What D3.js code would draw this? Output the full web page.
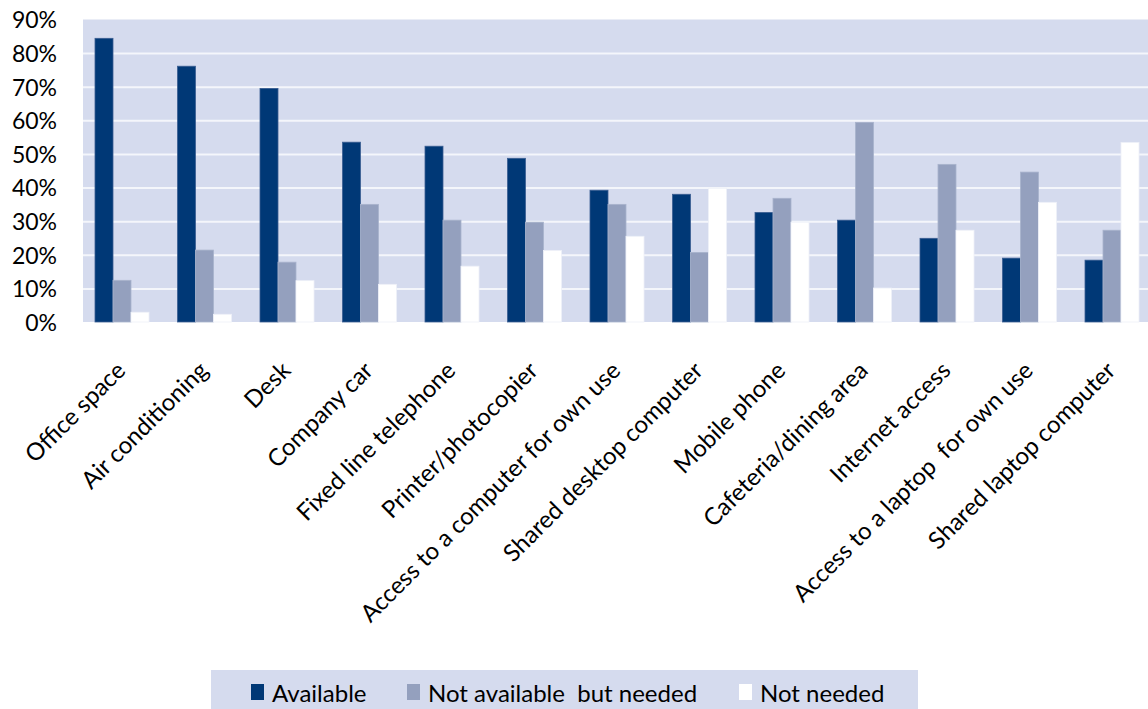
<!DOCTYPE html>
<html>
<head>
<meta charset="utf-8">
<script src="https://cdn.jsdelivr.net/npm/d3@7"></script>
<style>
  html, body { margin: 0; padding: 0; background: #ffffff; }
  svg { display: block; }
  text { font-family: Lato, "Open Sans", sans-serif; fill: #000; }
</style>
</head>
<body>
<svg id="chart" width="1148" height="709"></svg>
<script>
const categories = [
  "Office space", "Air conditioning", "Desk", "Company car", "Fixed line telephone",
  "Printer/photocopier", "Access to a computer for own use", "Shared desktop computer",
  "Mobile phone", "Cafeteria/dining area", "Internet access",
  "Access to a laptop  for own use", "Shared laptop computer"
];
const seriesNames = ["Available", "Not available  but needed", "Not needed"];
const available      = [84.4, 76.1, 69.5, 53.5, 52.3, 48.7, 39.2, 38.0, 32.6, 30.3, 24.9, 19.0, 18.4];
const notAvailNeeded = [12.4, 21.4, 17.8, 35.0, 30.3, 29.7, 35.0, 20.7, 36.8, 59.4, 46.9, 44.6, 27.3];
const notNeeded      = [ 2.9,  2.3, 12.3, 11.2, 16.6, 21.3, 25.5, 39.8, 29.7, 10.1, 27.3, 35.6, 53.4];
const yTicks = [0, 10, 20, 30, 40, 50, 60, 70, 80, 90];
const colors = ["#003876", "#94A0BE", "#FFFFFF"];

const seriesValues = [available, notAvailNeeded, notNeeded];
const rows = categories.map((c, i) => ({ cat: c, vals: seriesValues.map((s, k) => ({ key: seriesNames[k], v: s[i], k })) }));

const svg = d3.select("#chart");
const plot = { left: 83, right: 1148, top: 19.5, bottom: 322 };

const x0 = d3.scaleBand().domain(categories).range([80.75, 1153.25])
  .paddingInner(28.5 / 82.5).paddingOuter(28.5 / 82.5 / 2);
const x1 = d3.scaleBand().domain(seriesNames).range([0, x0.bandwidth()]);
const y = d3.scaleLinear().domain([0, 90]).range([plot.bottom, plot.top]);

// plot background
svg.append("rect")
  .attr("x", plot.left).attr("y", plot.top)
  .attr("width", plot.right - plot.left).attr("height", plot.bottom - plot.top)
  .attr("fill", "#D5DBEE");

// gridlines
svg.append("g")
  .attr("transform", `translate(${plot.left},0)`)
  .call(d3.axisLeft(y).tickValues(yTicks.filter(t => t > 0 && t < 90)).tickSize(-(plot.right - plot.left)).tickFormat(""))
  .call(g => g.select(".domain").remove())
  .call(g => g.selectAll("line").attr("stroke", "#F4F6FB").attr("stroke-width", 2));

// bars
const groups = svg.append("g").selectAll("g").data(rows).join("g")
  .attr("transform", d => `translate(${x0(d.cat)},0)`);
groups.selectAll("rect").data(d => d.vals).join("rect")
  .attr("x", d => x1(d.key))
  .attr("y", d => y(d.v))
  .attr("width", x1.bandwidth())
  .attr("height", d => y(0) - y(d.v))
  .attr("fill", d => colors[d.k])
  .attr("stroke", d => d.k === 0 ? "#3A5E92" : (d.k === 1 ? "#A9B3CC" : "#EEF1F8"))
  .attr("stroke-width", 0.8);

// y axis labels
const yAxis = svg.append("g")
  .attr("transform", `translate(57,0)`)
  .call(d3.axisLeft(y).tickValues(yTicks).tickSize(0).tickPadding(0).tickFormat(d => d + "%"));
yAxis.select(".domain").remove();
yAxis.selectAll("text")
  .style("font-family", "Lato, sans-serif")
  .style("font-size", "23px")
  .attr("fill", "#000")
  .attr("dy", "0.36em");

// category labels (rotated)
const xAxis = svg.append("g")
  .attr("transform", `translate(0,372)`)
  .call(d3.axisBottom(x0).tickSize(0).tickPadding(0));
xAxis.select(".domain").remove();
xAxis.selectAll(".tick text")
  .style("font-family", "Lato, sans-serif")
  .style("font-size", "24px")
  .attr("fill", "#000")
  .attr("text-anchor", "end")
  .attr("x", 5)
  .attr("y", 0)
  .attr("dy", 0)
  .attr("transform", "rotate(-45,5,0)")
  .style("white-space", "pre");

// legend
const legend = svg.append("g");
legend.append("rect")
  .attr("x", 211).attr("y", 670).attr("width", 707).attr("height", 45)
  .attr("fill", "#D5DBEE");
const legendX = [251, 407, 739];
const items = legend.selectAll("g.item").data(seriesNames).join("g")
  .attr("class", "item")
  .attr("transform", (d, i) => `translate(${legendX[i]},0)`);
items.append("rect")
  .attr("x", 0).attr("y", 684).attr("width", 13).attr("height", 16)
  .attr("fill", (d, i) => colors[i]);
items.append("text")
  .attr("x", 21).attr("y", 701.5)
  .style("font-size", "24px")
  .style("white-space", "pre")
  .text(d => d);
</script>
</body>
</html>
